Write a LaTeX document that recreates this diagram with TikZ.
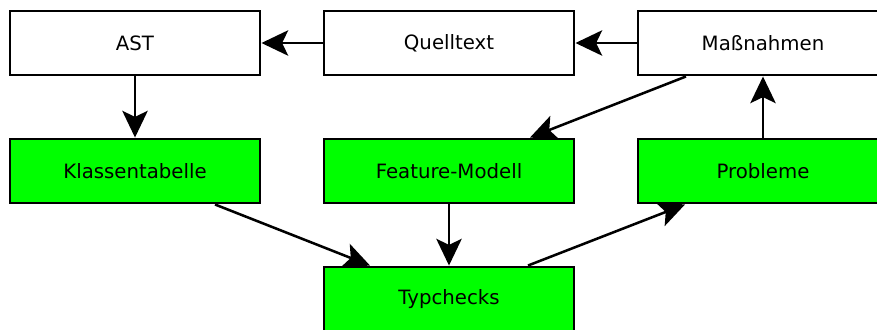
\documentclass[tikz,border=0pt]{standalone}
\usepackage{fontspec}
\setmainfont{DejaVu Sans}
\usetikzlibrary{arrows.meta}
\tikzset{
  box/.style={draw=black,line width=2.2pt,minimum width=187.5pt,minimum height=48pt,inner sep=0pt,font=\fontsize{14.8pt}{17pt}\selectfont},
  hot/.style={box,fill=green},
  plain/.style={box,fill=white},
  conn/.style={draw=black,line width=1.9pt,arrows={-Stealth[length=20pt,width=19pt,inset=4.5pt]}}
}
\begin{document}
\begin{tikzpicture}[x=0.75pt,y=-0.75pt]
\useasboundingbox (0,0) rectangle (877,329);
\node[plain] (ast) at (135,43) {\raisebox{-1.2pt}{AST}};
\node[plain] (quelle) at (449,43) {\raisebox{-1.2pt}{Quelltext}};
\node[plain] (mass) at (763,43) {\raisebox{-1.2pt}{Maßnahmen}};
\node[hot] (klass) at (135,171) {\raisebox{-1.2pt}{Klassentabelle}};
\node[hot] (feat) at (449,171) {\raisebox{-1.2pt}{Feature-Modell}};
\node[hot] (prob) at (763,171) {\raisebox{-1.2pt}{Probleme}};
\node[hot] (typ) at (449,299) {\raisebox{-1.2pt}{Typchecks}};
\draw[conn] (quelle.west) -- (ast.east);
\draw[conn] (mass.west) -- (quelle.east);
\draw[conn] (ast.south) -- (klass.north);
\draw[conn] (mass.south -| 686,0) -- (feat.north -| 530,0);
\draw[conn] (klass.south -| 215,0) -- (typ.north -| 370,0);
\draw[conn] (feat.south) -- (typ.north);
\draw[conn] (typ.north -| 528,0) -- (prob.south -| 685,0);
\draw[conn] (prob.north) -- (mass.south);
\end{tikzpicture}
\end{document}
